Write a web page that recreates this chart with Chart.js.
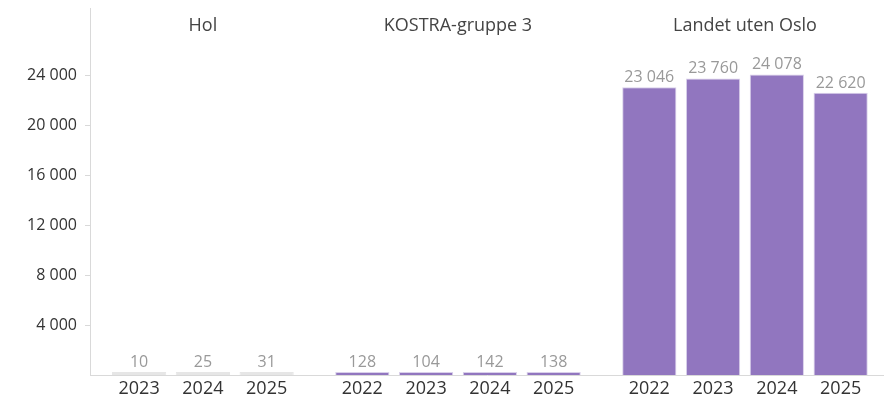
<!DOCTYPE html>
<html>
<head>
<meta charset="utf-8">
<script src="https://cdn.jsdelivr.net/npm/chart.js@4/dist/chart.umd.min.js"></script>
<style>
  html, body { margin: 0; padding: 0; background: #fff; }
  #wrap { width: 884px; height: 400px; }
</style>
</head>
<body>
<div id="wrap"><canvas id="chart"></canvas></div>
<script>
// data
var groupNames = ['Hol', 'KOSTRA-gruppe 3', 'Landet uten Oslo'];
var holYears = ['2023', '2024', '2025'];
var holValues = [10, 25, 31];
var kostraYears = ['2022', '2023', '2024', '2025'];
var kostraValues = [128, 104, 142, 138];
var landetYears = ['2022', '2023', '2024', '2025'];
var landetValues = [23046, 23760, 24078, 22620];
var yTickValues = [4000, 8000, 12000, 16000, 20000, 24000];

var groupYears = [holYears, kostraYears, landetYears];
var groupValues = [holValues, kostraValues, landetValues];
var groupColors = ['#e6e6e6', '#9176bf', '#9176bf'];

function fmt(v) {
    return String(v).replace(/\B(?=(\d{3})+(?!\d))/g, ' ');
}

// x position of each bar: one slot per bar, half a slot extra between groups
var tickPositions = [];
var tickLabels = [];
var groupCenters = [];
var slot = 0;
var datasets = groupValues.map(function(values, g) {
    var pts = [];
    values.forEach(function(v, i) {
        var x = slot + 0.5 * g;
        pts.push({ x: x, y: v });
        tickPositions.push(x);
        tickLabels.push(groupYears[g][i]);
        slot++;
    });
    groupCenters.push((pts[0].x + pts[pts.length - 1].x) / 2);
    return {
        label: groupNames[g],
        data: pts,
        backgroundColor: groupColors[g],
        borderColor: g === 0 ? '#e6e6e6' : '#d9d0ea',
        borderWidth: 1,
        minBarLength: 3,
        grouped: false,
        categoryPercentage: 1,
        barPercentage: 0.85
    };
});

var FONT = '"Open Sans", "Noto Sans", sans-serif';

var labelPlugin = {
    id: 'labels',
    afterDatasetsDraw: function(chart) {
        var ctx = chart.ctx;
        ctx.save();
        ctx.font = '16px ' + FONT;
        ctx.fillStyle = '#999';
        ctx.textAlign = 'center';
        ctx.textBaseline = 'alphabetic';
        chart.data.datasets.forEach(function(ds, d) {
            chart.getDatasetMeta(d).data.forEach(function(el, i) {
                ctx.fillText(fmt(ds.data[i].y), el.x, el.y - 5);
            });
        });
        // group titles
        var xs = chart.scales.x;
        ctx.font = '18px ' + FONT;
        ctx.fillStyle = '#444';
        ctx.textBaseline = 'middle';
        groupNames.forEach(function(name, g) {
            ctx.fillText(name, xs.getPixelForValue(groupCenters[g]), 26);
        });
        ctx.restore();
    }
};

var ctx = document.getElementById('chart').getContext('2d');
var chart = new Chart(ctx, {
    type: 'bar',
    data: { datasets: datasets },
    plugins: [labelPlugin],
    options: {
        responsive: true,
        maintainAspectRatio: false,
        animation: false,
        layout: { padding: { top: 7, right: 0, left: 0, bottom: 0 } },
        plugins: {
            legend: { display: false },
            tooltip: { enabled: false }
        },
        scales: {
            x: {
                type: 'linear',
                offset: false,
                min: -0.77,
                max: 11.68,
                afterFit: function(scale) { scale.height = 25; },
                grid: { display: false, drawTicks: false },
                border: { color: '#d9d9d9', width: 1 },
                afterBuildTicks: function(scale) {
                    scale.ticks = tickPositions.map(function(v) { return { value: v }; });
                },
                ticks: {
                    autoSkip: false,
                    maxRotation: 0,
                    padding: 3,
                    color: '#333',
                    font: { family: FONT, size: 18 },
                    callback: function(value, index) { return tickLabels[index]; }
                }
            },
            y: {
                min: 0,
                max: 29400,
                afterBuildTicks: function(scale) {
                    scale.ticks = yTickValues.map(function(v) { return { value: v }; });
                },
                afterFit: function(scale) { scale.width = 90; },
                grid: { drawOnChartArea: false, tickLength: 5, color: '#d9d9d9' },
                border: { color: '#d9d9d9', width: 1 },
                ticks: {
                    padding: 8,
                    color: '#333',
                    font: { family: FONT, size: 16, lineHeight: 0 },
                    callback: function(v) { return fmt(v); }
                }
            }
        }
    }
});
</script>
</body>
</html>
